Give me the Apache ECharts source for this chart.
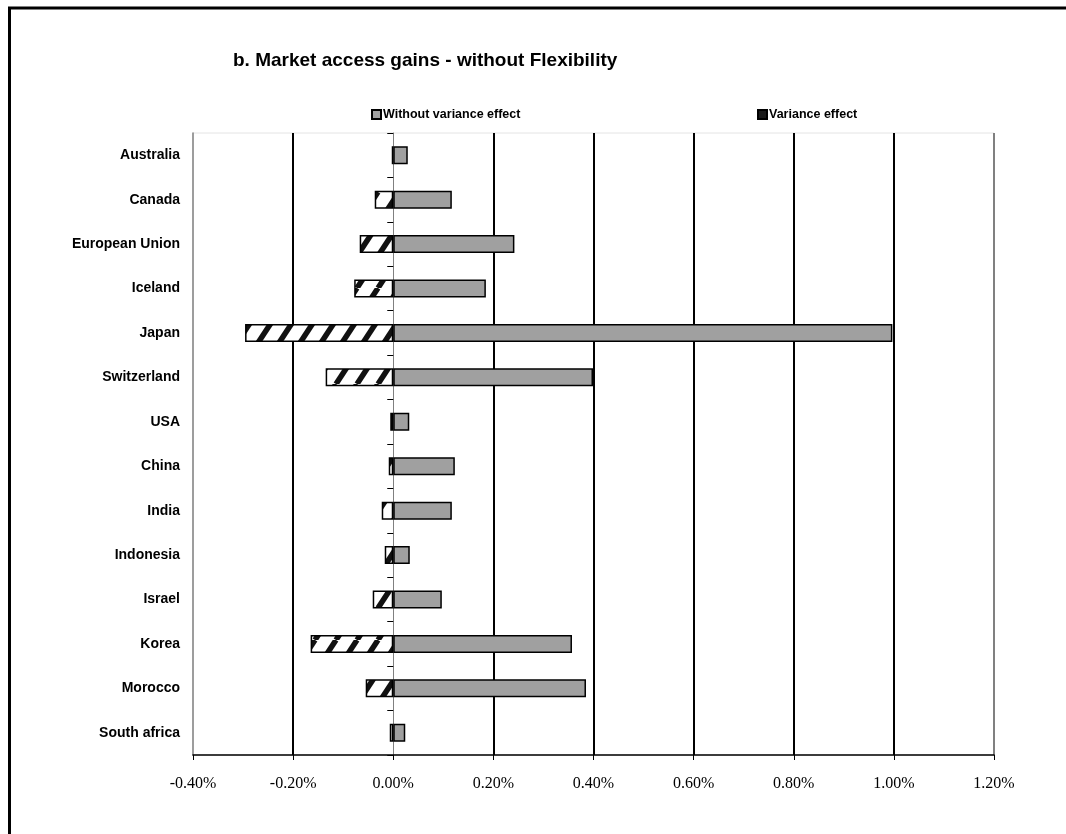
<!DOCTYPE html>
<html>
<head>
<meta charset="utf-8">
<title>Market access gains - without Flexibility</title>
<script src="https://cdn.jsdelivr.net/npm/echarts@6/dist/echarts.min.js"></script>
<style>
  html, body { margin: 0; padding: 0; background: #fff; }
  #chart { width: 1066px; height: 834px; }
</style>
</head>
<body>
<div id="chart"></div>
<script>
// Countries, top to bottom
const categories = ['Australia', 'Canada', 'European Union', 'Iceland', 'Japan', 'Switzerland', 'USA',
  'China', 'India', 'Indonesia', 'Israel', 'Korea', 'Morocco', 'South africa'];

// Gains in percent
const withoutVariance = [0.029, 0.117, 0.242, 0.185, 0.997, 0.399, 0.032, 0.123, 0.117, 0.033, 0.097, 0.357, 0.385, 0.024];
const varianceEffect = [-0.003, -0.037, -0.067, -0.078, -0.296, -0.135, -0.006, -0.009, -0.023, -0.017, -0.041, -0.165, -0.055, -0.007];

const seriesNames = ['Without variance effect', 'Variance effect'];
const titleText = 'b. Market access gains - without Flexibility';

// Value axis range (percent)
const xMin = -0.4, xMax = 1.2, xStep = 0.2;

// Diagonal hatch tile for the variance bars
function makeHatch() {
  const w = 21, h = 32;
  const c = document.createElement('canvas');
  c.width = w; c.height = h;
  const ctx = c.getContext('2d');
  ctx.fillStyle = '#fff';
  ctx.fillRect(0, 0, w, h);
  ctx.strokeStyle = '#111';
  ctx.lineWidth = 5.5;
  for (const k of [-w, 0, w]) {
    ctx.beginPath();
    ctx.moveTo(k, h);
    ctx.lineTo(k + w, 0);
    ctx.stroke();
  }
  return c;
}

const chart = echarts.init(document.getElementById('chart'), null, { renderer: 'canvas' });

const gridColors = ['#000', 'rgba(0,0,0,0)', '#000', '#000', '#000', '#000', '#000', '#808080'];
const legendText = { fontSize: 12.5, fontWeight: 'bold', color: '#000', padding: [0, 0, 0, -3] };

chart.setOption({
  animation: false,
  backgroundColor: '#fff',
  textStyle: { fontFamily: 'Liberation Sans, Arial, sans-serif' },
  title: {
    text: titleText,
    left: 233,
    top: 51,
    padding: 0,
    textStyle: { fontSize: 19, fontWeight: 'bold', color: '#000', fontFamily: 'Liberation Sans, Arial, sans-serif' }
  },
  graphic: [{
    type: 'rect',
    shape: { x: 9.5, y: 8, width: 1200, height: 1000 },
    style: { fill: 'none', stroke: '#000', lineWidth: 3 },
    silent: true,
    z: 100
  }],
  legend: [{
    data: [seriesNames[0]],
    left: 371,
    top: 108,
    padding: 0,
    itemWidth: 9,
    itemHeight: 9,
    icon: 'rect',
    textStyle: legendText
  }, {
    data: [{ name: seriesNames[1], itemStyle: { color: '#1a1a1a' } }],
    left: 757,
    top: 108,
    padding: 0,
    itemWidth: 9,
    itemHeight: 9,
    icon: 'rect',
    textStyle: legendText
  }],
  grid: {
    left: 193,
    right: 72,
    top: 133,
    bottom: 79,
    show: true,
    borderColor: '#e4e4e4',
    borderWidth: 1,
    backgroundColor: 'rgba(0,0,0,0)'
  },
  xAxis: {
    type: 'value',
    min: xMin,
    max: xMax,
    interval: xStep,
    axisLine: { show: true, onZero: false, lineStyle: { color: '#000', width: 1.5 } },
    axisTick: { show: true, length: 5, lineStyle: { color: '#000', width: 1 } },
    axisLabel: {
      margin: 21,
      fontSize: 16,
      color: '#000',
      fontFamily: 'Liberation Serif, Times New Roman, serif',
      formatter: v => v.toFixed(2) + '%'
    },
    splitLine: {
      show: true,
      showMinLine: false,
      showMaxLine: true,
      lineStyle: { color: gridColors, width: 2 }
    }
  },
  yAxis: [{
    type: 'category',
    data: categories,
    inverse: true,
    position: 'left',
    axisLine: { show: true, onZero: false, lineStyle: { color: '#808080', width: 1.5 } },
    axisTick: { show: false },
    axisLabel: {
      margin: 13,
      fontSize: 14,
      fontWeight: 'bold',
      color: '#000',
      padding: [4, 0, 0, 0],
      fontFamily: 'Liberation Sans, Arial, sans-serif'
    },
    splitLine: { show: false }
  }, {
    type: 'category',
    data: categories,
    inverse: true,
    position: 'left',
    axisLine: { show: true, onZero: true, lineStyle: { color: '#808080', width: 1 } },
    axisTick: { show: true, length: 6, lineStyle: { color: '#000', width: 1 } },
    axisLabel: { show: false },
    splitLine: { show: false }
  }],
  series: [{
    name: seriesNames[0],
    type: 'bar',
    yAxisIndex: 0,
    data: withoutVariance,
    barWidth: 18,
    barGap: '-100%',
    itemStyle: { color: '#a0a0a0', borderColor: '#000', borderWidth: 1.5 },
    z: 3
  }, {
    name: seriesNames[1],
    type: 'bar',
    yAxisIndex: 0,
    data: varianceEffect,
    barWidth: 18,
    barGap: '-100%',
    itemStyle: {
      color: { image: makeHatch(), repeat: 'repeat' },
      borderColor: '#000',
      borderWidth: 1.5
    },
    z: 3
  }]
});
</script>
</body>
</html>
